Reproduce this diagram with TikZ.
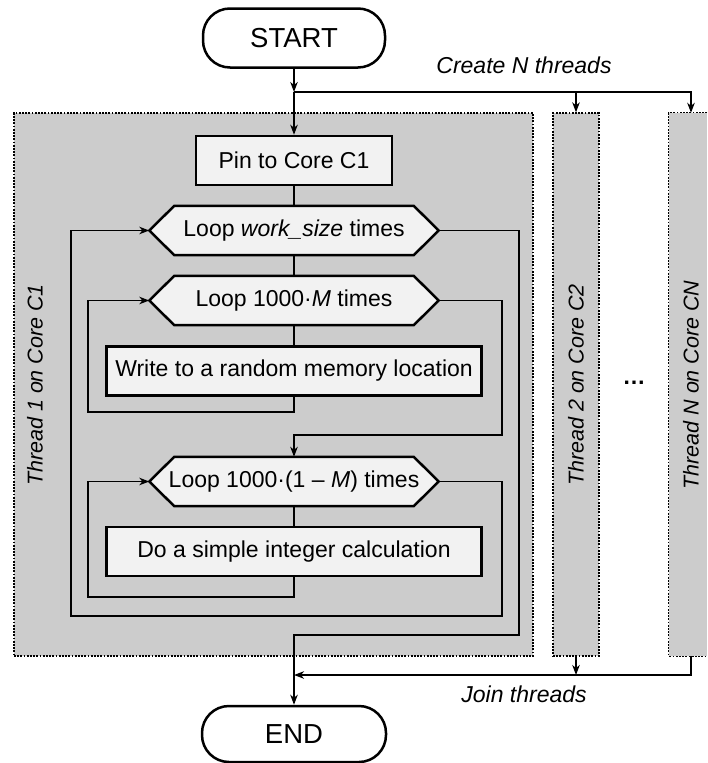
\documentclass[tikz,border=0pt]{standalone}
\usepackage{fontspec}
\setmainfont{Liberation Sans}
\usetikzlibrary{arrows.meta}
\pgfdeclarelayer{bg}
\pgfdeclarelayer{mid}
\pgfsetlayers{bg,mid,main}
\definecolor{threadfill}{HTML}{CCCCCC}
\definecolor{boxfill}{HTML}{F2F2F2}
\tikzset{
  conn/.style={line width=1.3pt},
  arr/.style={conn, -{Stealth[length=10pt,width=7.5pt,inset=3pt]}},
  proc/.style={draw, line width=2.5pt, fill=boxfill, minimum height=49pt, inner sep=0pt, font=\fontsize{23}{27}\selectfont},
  hexbox/.style={minimum width=289pt, minimum height=49pt, inner sep=0pt, font=\fontsize{23}{27}\selectfont},
  hexdraw/.style={draw, line width=2.5pt, fill=boxfill, line join=miter},
  pill/.style={draw, line width=2.5pt, rounded corners=27pt, inner sep=0pt, font=\fontsize{27.5}{32}\selectfont},
  threadbox/.style={fill=threadfill, draw, line width=1.3pt, dash pattern=on 1.8pt off 1.4pt, inner sep=0pt},
  threadborder/.style={line width=1.3pt, dash pattern=on 1.8pt off 1.4pt},
  lbl/.style={font=\fontsize{23}{27}\selectfont\itshape},
  tlbl/.style={rotate=90, font=\fontsize{21.5}{25}\selectfont\itshape},
}
\begin{document}
\begin{tikzpicture}[x=1pt,y=-1pt]
\useasboundingbox (0,0) rectangle (707,763);

% thread boxes
\begin{pgfonlayer}{bg}
  \node[threadbox, minimum width=519pt, minimum height=543pt] (t1) at (273.5,384.5) {};
  \node[threadbox, minimum width=46pt, minimum height=543pt] (t2) at (576,384.5) {};
  \node[fill=threadfill, inner sep=0pt, minimum width=38pt, minimum height=543pt] (t3) at (688,384.5) {};
  \draw[threadborder] (t3.north east) -- (t3.north west) -- (t3.south west) -- (t3.south east);
\end{pgfonlayer}

% thread labels
\node[tlbl] (t1lbl) at (35,385) {Thread 1 on Core C1};
\node[tlbl] (t2lbl) at (576,385) {Thread 2 on Core C2};
\node[tlbl] (t3lbl) at (691,385) {Thread N on Core CN};
\node[font=\fontsize{23}{27}\selectfont\bfseries] (dots) at (634,383) {…};

% main flow
\node[pill, minimum width=182pt, minimum height=59pt] (start) at (294,38) {START};
\coordinate (j1) at (294,92);
\node[proc, minimum width=196pt] (pin) at (294,160.5) {Pin to Core C1};
\node[hexbox] (lw) at (294,230.5) {Loop \textit{work\_size} times};
\node[hexbox] (lm) at (294,300.5) {Loop 1000·\textit{M} times};
\node[proc, minimum width=375pt] (wr) at (294,371) {Write to a random memory location};
\node[hexbox] (l2) at (294,481.5) {Loop 1000·(1 – \textit{M}) times};
\node[proc, minimum width=375pt] (do) at (294,551.5) {Do a simple integer calculation};
\node[pill, minimum width=184pt, minimum height=56pt] (end) at (294,734) {END};

\begin{pgfonlayer}{mid}
  \foreach \n in {lw,lm,l2}
    \draw[hexdraw] (\n.west) -- ([xshift=25pt]\n.north west) -- ([xshift=-25pt]\n.north east)
      -- (\n.east) -- ([xshift=-25pt]\n.south east) -- ([xshift=25pt]\n.south west) -- cycle;
\end{pgfonlayer}

% labels
\node[lbl, anchor=base] (create) at (524,73) {Create N threads};
\node[lbl, anchor=base] (join) at (524,702) {Join threads};

% helper coordinates
\coordinate (c1) at (88,412);
\coordinate (c2) at (502,435);
\coordinate (c3) at (88,597);
\coordinate (c4) at (502,616);
\coordinate (c5) at (71,616);
\coordinate (c6) at (519,635);
\coordinate (j2) at (294,675);

% connectors
\draw[arr] (start) -- (j1);
\draw[arr] (j1) -- (pin);
\draw[arr] (j1) -| (t2.north);
\draw[arr] (j1) -| (t3lbl |- t3.north);
\draw[conn] (pin) -- (lw);
\draw[conn] (lw) -- (lm);
\draw[conn] (lm) -- (wr);
\draw[arr] (wr.south) |- (c1) |- (lm.west);
\draw[arr] (lm.east) -| (c2) -| (l2.north);
\draw[conn] (l2) -- (do);
\draw[arr] (do.south) |- (c3) |- (l2.west);
\draw[arr] (l2.east) -| (c4) -- (c5) |- (lw.west);
\draw[arr] (lw.east) -| (c6) -| (end.north);
\draw[arr] (t2.south) -- (t2.south |- j2);
\draw[arr] (t3lbl |- t3.south) |- (j2);
\end{tikzpicture}
\end{document}
